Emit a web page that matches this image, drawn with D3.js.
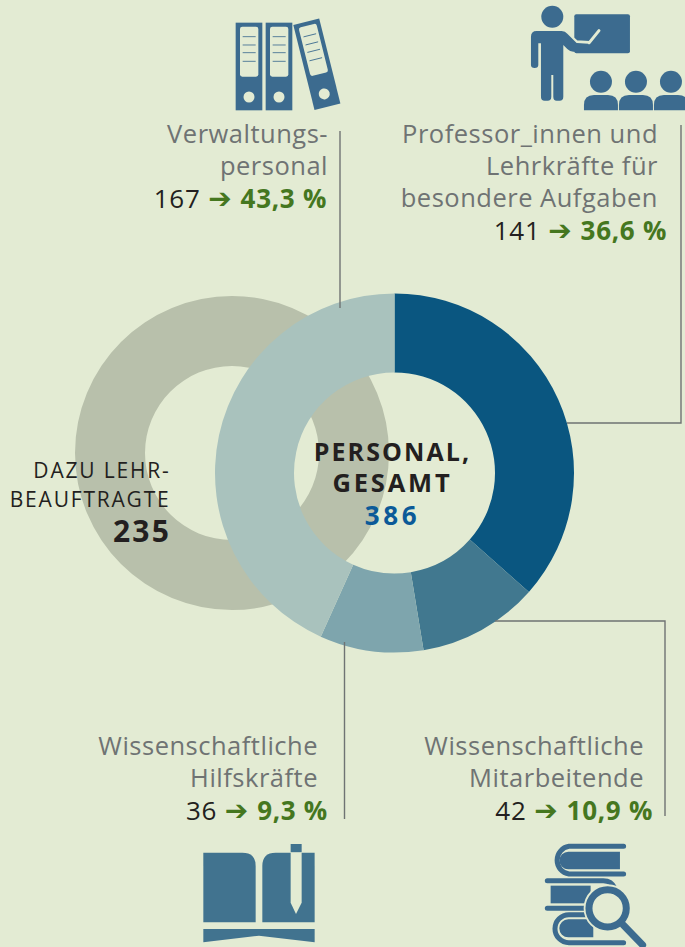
<!DOCTYPE html>
<html>
<head>
<meta charset="utf-8">
<script src="https://cdnjs.cloudflare.com/ajax/libs/d3/7.8.5/d3.min.js"></script>
<style>
  html, body { margin: 0; padding: 0; background: #e3ebd3; }
  svg { display: block; }
  text { font-family: "Open Sans", sans-serif; }
</style>
</head>
<body>
<div id="chart"></div>
<script>
// Data
var categories = ["Professor_innen und Lehrkräfte für besondere Aufgaben", "Wissenschaftliche Mitarbeitende", "Wissenschaftliche Hilfskräfte", "Verwaltungspersonal"];
var counts = [141, 42, 36, 167];
var shares = ["36,6 %", "10,9 %", "9,3 %", "43,3 %"];
var sliceColors = ["#0a5680", "#41788f", "#7ea5ad", "#a9c2bd"];
var total = 386;
var lecturers = [235];

var w = 685, h = 947;
var bg = "#e3ebd3", lineColor = "#6f7373", grey = "#6f7373", dark = "#231f20", green = "#45771f", iconBlue = "#3c6b8f";

var svg = d3.select("#chart").append("svg")
  .attr("width", w)
  .attr("height", h);

svg.append("rect").attr("width", w).attr("height", h).attr("fill", bg);

// Lehrbeauftragte ring sits behind the main donut
var lecturerArc = d3.arc().innerRadius(87).outerRadius(157);
svg.append("g")
  .attr("transform", "translate(232,453)")
  .selectAll("path")
  .data(d3.pie().sort(null)(lecturers))
  .enter().append("path")
  .attr("fill", "#b8c0ab")
  .attr("d", lecturerArc);

// Main donut
var pie = d3.pie().sort(null);
var arc = d3.arc().innerRadius(100.5).outerRadius(179.5);
svg.append("g")
  .attr("transform", "translate(394.5,473)")
  .selectAll("path")
  .data(pie(counts))
  .enter().append("path")
  .attr("fill", (d, i) => sliceColors[i])
  .attr("d", arc)
  .append("title")
  .text((d, i) => categories[i] + ": " + counts[i]);

// Leader lines
var leaders = [
  [[681, 125], [681, 423], [567, 423]],
  [[665, 816], [665, 621], [495, 621]],
  [[344.5, 819], [344.5, 642]],
  [[340, 131], [340, 308]]
];
svg.selectAll(".leader")
  .data(leaders)
  .enter().append("path")
  .attr("class", "leader")
  .attr("fill", "none")
  .attr("stroke", lineColor)
  .attr("stroke-width", 1.4)
  .attr("d", d3.line());

// Labels
function labelLines(lines, x, ys) {
  lines.forEach(function (t, i) {
    svg.append("text")
      .attr("x", x).attr("y", ys[i])
      .attr("text-anchor", "end")
      .attr("fill", grey)
      .style("font-size", "25.5px")
      .style("letter-spacing", "0.5px")
      .text(t);
  });
}
function valueLine(i, x, y) {
  var t = svg.append("text")
    .attr("x", x).attr("y", y)
    .attr("text-anchor", "end")
    .style("font-size", "26px");
  t.append("tspan").attr("fill", dark).style("letter-spacing", "0.8px").text(counts[i] + " ");
  t.append("tspan").attr("fill", green).style("font-family", "'DejaVu Sans'").style("font-size", "28px").text("\u2794 ");
  t.append("tspan").attr("fill", green).style("font-weight", 700).style("letter-spacing", "0.7px").text(shares[i]);
}

labelLines(["Verwaltungs-", "personal"], 328, [143, 175]);
valueLine(3, 327, 208);
labelLines(["Professor_innen und", "Lehrkräfte für", "besondere Aufgaben"], 658, [143, 175, 207]);
valueLine(0, 667, 240);
labelLines(["Wissenschaftliche", "Hilfskräfte"], 318, [755, 787]);
valueLine(2, 328, 820);
labelLines(["Wissenschaftliche", "Mitarbeitende"], 644, [755, 787]);
valueLine(1, 653, 820);

// Centre text
function centerText(t, y, color, size, spacing) {
  svg.append("text")
    .attr("x", 392.5).attr("y", y)
    .attr("text-anchor", "middle")
    .attr("fill", color)
    .style("font-size", size + "px")
    .style("font-weight", 700)
    .style("letter-spacing", spacing + "px")
    .text(t);
}
centerText("PERSONAL,", 461, dark, 25, 2.1);
centerText("GESAMT", 492, dark, 25.5, 2.8);
centerText(total, 525, "#0b5a98", 26, 3.6);

// Lehrbeauftragte text
["DAZU LEHR-", "BEAUFTRAGTE"].forEach(function (t, i) {
  svg.append("text")
    .attr("x", 170.5).attr("y", 478 + i * 29)
    .attr("text-anchor", "end")
    .attr("fill", dark)
    .style("font-size", "21px")
    .style("letter-spacing", "1.8px")
    .text(t);
});
svg.append("text")
  .attr("x", 171).attr("y", 542)
  .attr("text-anchor", "end")
  .attr("fill", dark)
  .style("font-size", "30px")
  .style("font-weight", 700)
  .style("letter-spacing", "2.2px")
  .text(lecturers[0]);

// Icons, drawn at 3x and scaled down
function icon(x, y) {
  return svg.append("g").attr("transform", "translate(" + x + "," + y + ") scale(0.3333)");
}

function binder(g) {
  g.append("rect").attr("width", 80).attr("height", 263).attr("fill", iconBlue);
  g.append("rect").attr("x", 13).attr("y", 12).attr("width", 55).attr("height", 150).attr("rx", 7).attr("fill", bg);
  [42, 67, 90, 116].forEach(function (y) {
    g.append("line").attr("x1", 21).attr("x2", 60).attr("y1", y).attr("y2", y)
      .attr("stroke", iconBlue).attr("stroke-width", 2.5);
  });
  g.append("circle").attr("cx", 40).attr("cy", 223).attr("r", 16.5).attr("fill", bg);
}

var binders = icon(220, 0);
binder(binders.append("g").attr("transform", "translate(47,68)"));
binder(binders.append("g").attr("transform", "translate(137,68)"));
binder(binders.append("g").attr("transform", "translate(220,75) rotate(-14)"));

var teacher = icon(220, 0);
teacher.append("rect").attr("x", 1063).attr("y", 43).attr("width", 167).attr("height", 117).attr("rx", 6).attr("fill", iconBlue);
teacher.append("circle").attr("cx", 997).attr("cy", 50).attr("r", 33).attr("fill", iconBlue);
teacher.append("path").attr("fill", "none").attr("stroke", bg).attr("stroke-width", 10)
  .attr("d", "M1042,101 L1070,126 L1108,128");
teacher.append("path").attr("fill", iconBlue)
  .attr("d", "M950,93 H1025 Q1036,93 1042,101 L1070,129 L1105,131 V155 H1060 Q1050,155 1042,147 L1030,135 V290 Q1030,302 1019,302 H1010 Q1000,302 1000,290 V225 H994 V290 Q994,302 983,302 H974 Q963,302 963,290 V130 H955 V195 Q955,204 944,204 Q933,204 933,195 V110 Q933,93 950,93 Z");
teacher.append("path").attr("fill", "none").attr("stroke", bg).attr("stroke-width", 9).attr("stroke-linecap", "round")
  .attr("d", "M1137,92 L1108,128");
[1143, 1248, 1353].forEach(function (cx) {
  teacher.append("circle").attr("cx", cx).attr("cy", 245).attr("r", 33).attr("fill", iconBlue);
  teacher.append("path").attr("fill", iconBlue)
    .attr("d", "M" + (cx - 51) + ",331 V315 Q" + (cx - 51) + ",285 " + (cx - 21) + ",285 H" + (cx + 21) + " Q" + (cx + 51) + ",285 " + (cx + 51) + ",315 V331 Z");
});

var book = icon(180, 830);
book.append("path").attr("fill", "#41738f")
  .attr("d", "M70,68 H187 Q227,68 227,108 V277 H70 Z");
book.append("path").attr("fill", "#41738f")
  .attr("d", "M404,68 H287 Q247,68 247,108 V277 H404 Z");
book.append("path").attr("fill", bg)
  .attr("d", "M332,68 H365 V218 L348,252 L332,218 Z");
book.append("rect").attr("x", 332).attr("y", 42).attr("width", 33).attr("height", 24).attr("fill", "#41738f");
book.append("path").attr("fill", "#41738f")
  .attr("d", "M70,297 H404 V337 L237,317 L70,337 Z");

var stack = icon(180, 830);
stack.append("path").attr("fill", "none").attr("stroke", iconBlue).attr("stroke-width", 15).attr("stroke-linecap", "round")
  .attr("d", "M1331,49 H1167 A42,42 0 0 0 1167,132 H1331");
stack.append("path").attr("fill", iconBlue)
  .attr("d", "M1320,65 H1165 A26,26 0 0 0 1165,118 H1320 Z");
stack.append("path").attr("fill", "none").attr("stroke", iconBlue).attr("stroke-width", 15).attr("stroke-linecap", "round")
  .attr("d", "M1102,152 H1270 Q1295,152 1305,175 M1102,235 H1225");
stack.append("rect").attr("x", 1112).attr("y", 167).attr("width", 120).attr("height", 53).attr("fill", iconBlue);
stack.append("path").attr("fill", "none").attr("stroke", iconBlue).attr("stroke-width", 15).attr("stroke-linecap", "round")
  .attr("d", "M1331,338 H1167 A42,42 0 0 1 1167,254 H1230");
stack.append("path").attr("fill", iconBlue)
  .attr("d", "M1320,322 H1165 A26,26 0 0 1 1165,268 H1240 V322 Z");
stack.append("circle").attr("cx", 1283).attr("cy", 235).attr("r", 58).attr("fill", bg).attr("stroke", bg).attr("stroke-width", 28);
stack.append("path").attr("fill", "none").attr("stroke", bg).attr("stroke-width", 32)
  .attr("d", "M1325,280 L1390,350");
stack.append("circle").attr("cx", 1283).attr("cy", 235).attr("r", 56).attr("fill", bg).attr("stroke", iconBlue).attr("stroke-width", 21);
stack.append("path").attr("fill", "none").attr("stroke", iconBlue).attr("stroke-width", 21).attr("stroke-linecap", "round")
  .attr("d", "M1330,285 L1388,345");
</script>
</body>
</html>
